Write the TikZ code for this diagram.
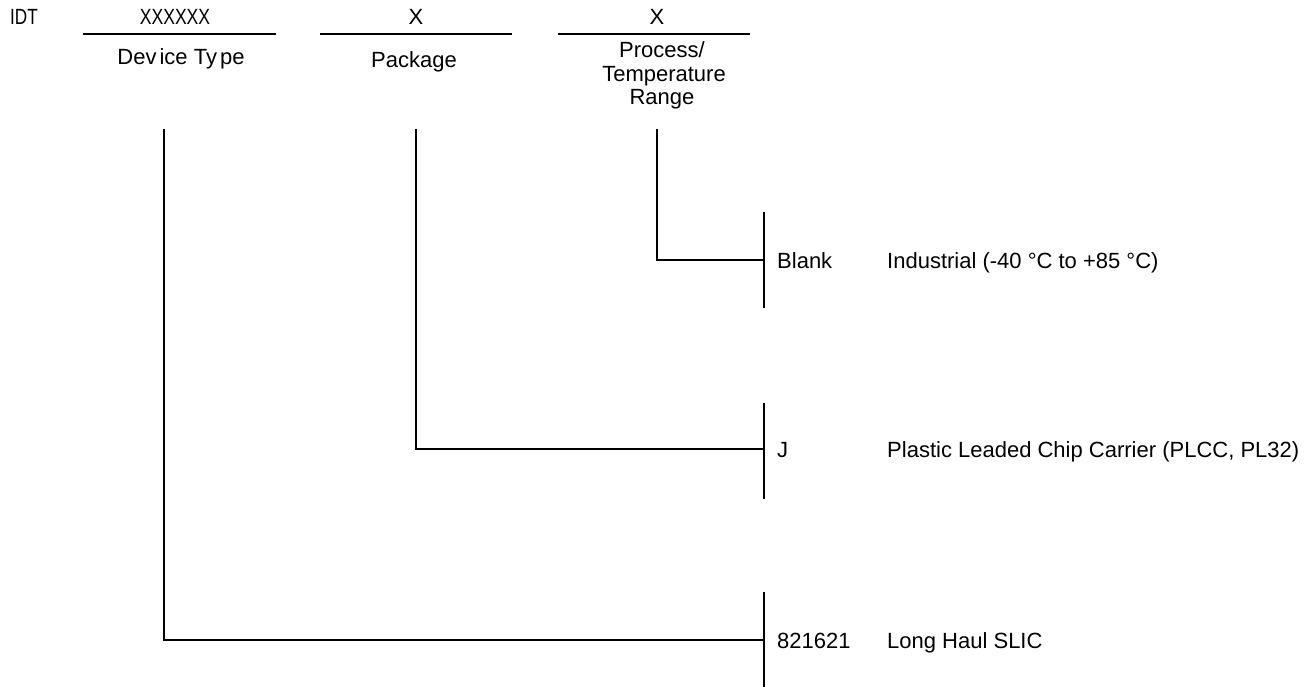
\documentclass[tikz,border=0pt]{standalone}
\usepackage{fontspec}
\setmainfont{Liberation Sans}
\begin{document}
\begin{tikzpicture}[x=1pt,y=-1pt,
  lbl/.style={font=\fontsize{22}{24}\selectfont, inner sep=0pt, anchor=base},
  lblw/.style={lbl, anchor=base west},
  rule/.style={line width=1.4pt},
  conn/.style={line width=2pt},
  bar/.style={line width=2pt}]
\useasboundingbox (0,0) rectangle (1311,687);

% header
\node[lblw] (idt) at (10,25) {\scalebox{0.78}[1]{IDT}};
\node[lbl] (xdev) at (175,25) {\scalebox{0.8}[1]{XXXXXX}};
\node[lbl] (xpkg) at (416,25) {X};
\node[lbl] (xproc) at (657,25) {X};

\coordinate (r1a) at (83,34);  \coordinate (r1b) at (276,34);
\coordinate (r2a) at (320,34); \coordinate (r2b) at (512,34);
\coordinate (r3a) at (558,34); \coordinate (r3b) at (750,34);
\draw[rule] (r1a) -- (r1b);
\draw[rule] (r2a) -- (r2b);
\draw[rule] (r3a) -- (r3b);

\node[lbl] (devt) at (181,65) {Dev\hspace{3pt}ice Ty\hspace{3pt}pe};
\node[lbl] (pkg) at (414,68) {Package};
\node[lbl] (proc1) at (662,57.5) {Process/};
\node[lbl] (proc2) at (664,81.5) {Temperature};
\node[lbl] (proc3) at (662,105) {Range};

% connectors
\coordinate (dtop) at (164,129);
\coordinate (ptop) at (416,129);
\coordinate (ttop) at (657,129);

\coordinate (b1t) at (764,212); \coordinate (b1m) at (764,260); \coordinate (b1b) at (764,308);
\coordinate (b2t) at (764,403); \coordinate (b2m) at (764,449); \coordinate (b2b) at (764,499);
\coordinate (b3t) at (764,592); \coordinate (b3m) at (764,640); \coordinate (b3b) at (764,688);

\draw[bar] (b1t) -- (b1b);
\draw[bar] (b2t) -- (b2b);
\draw[bar] (b3t) -- (b3b);

\draw[conn] (ttop) |- (b1m);
\draw[conn] (ptop) |- (b2m);
\draw[conn] (dtop) |- (b3m);

% options
\node[lblw] (blank) at (777,268) {Blank};
\node[lblw] (ind) at (887,268) {Industrial (-40 °C to +85 °C)};
\node[lblw] (jj) at (777,457) {J};
\node[lblw] (plcc) at (887,457) {Plastic Leaded Chip Carrier (PLCC, PL32)};
\node[lblw] (code) at (777,648) {821621};
\node[lblw] (slic) at (887,648) {Long Haul SLIC};
\end{tikzpicture}
\end{document}
